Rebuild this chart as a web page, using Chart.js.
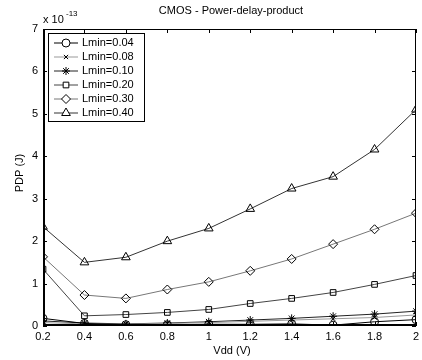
<!DOCTYPE html>
<html lang="en">
<head>
  <meta charset="UTF-8"/>
  <title>CMOS - Power-delay-product</title>
  <script src="https://cdn.jsdelivr.net/npm/chart.js"></script>
  <style>
    html, body { margin: 0; padding: 0; background: #fff; }
    #wrap { width: 422px; height: 360px; position: relative; }
  </style>
</head>
<body>
  <div id="wrap"><canvas id="pdp"></canvas></div>
  <script>
    // Vdd (V) and PDP values in units of 1e-13 J
    const vdd = [0.2, 0.4, 0.6, 0.8, 1.0, 1.2, 1.4, 1.6, 1.8, 2.0]
    const lmin004 = [0.18, 0.06, 0.03, 0.03, 0.04, 0.04, 0.05, 0.02, 0.10, 0.15]
    const lmin008 = [0.08, 0.05, 0.04, 0.06, 0.08, 0.11, 0.14, 0.17, 0.20, 0.26]
    const lmin010 = [0.12, 0.07, 0.05, 0.07, 0.10, 0.14, 0.18, 0.23, 0.28, 0.35]
    const lmin020 = [1.34, 0.24, 0.27, 0.32, 0.39, 0.53, 0.65, 0.79, 0.98, 1.19]
    const lmin030 = [1.63, 0.73, 0.65, 0.86, 1.04, 1.30, 1.58, 1.93, 2.28, 2.66]
    const lmin040 = [2.34, 1.50, 1.62, 2.00, 2.30, 2.76, 3.24, 3.52, 4.16, 5.10]
    const seriesNames = ['Lmin=0.04', 'Lmin=0.08', 'Lmin=0.10', 'Lmin=0.20', 'Lmin=0.30', 'Lmin=0.40']
    const xTicks = [0.2, 0.4, 0.6, 0.8, 1, 1.2, 1.4, 1.6, 1.8, 2]
    const yTicks = [0, 1, 2, 3, 4, 5, 6, 7]

    const FONT = 'Liberation Sans, Arial, sans-serif'
    const styles = [
      { line: '#000', point: 'circle', r: 4 },
      { line: '#999', point: 'crossRot', r: 3 },
      { line: '#222', point: 'star', r: 4 },
      { line: '#444', point: 'rect', r: 4 },
      { line: '#777', point: 'rectRot', r: 4.5 },
      { line: '#333', point: 'triangle', r: 5 }
    ]
    const allData = [lmin004, lmin008, lmin010, lmin020, lmin030, lmin040]

    const datasets = allData.map((vals, i) => ({
      label: seriesNames[i],
      data: vals.map((v, k) => ({ x: vdd[k], y: v })),
      borderColor: styles[i].line,
      borderWidth: 1,
      pointStyle: styles[i].point,
      pointRadius: styles[i].r,
      pointBorderColor: '#000',
      pointBorderWidth: 1,
      pointBackgroundColor: 'rgba(255,255,255,0)',
      tension: 0
    }))

    // axes box, inward ticks, title, labels and legend
    const decor = {
      id: 'decor',
      afterDatasetsDraw(chart) {
        const ctx = chart.ctx, a = chart.chartArea
        const xs = chart.scales.x, ys = chart.scales.y
        ctx.save()
        ctx.strokeStyle = '#000'
        ctx.lineWidth = 1
        ctx.beginPath()
        ctx.moveTo(a.left, a.top + 0.5); ctx.lineTo(a.right, a.top + 0.5)
        ctx.moveTo(a.right - 0.5, a.top); ctx.lineTo(a.right - 0.5, a.bottom)
        ctx.stroke()
        ctx.lineWidth = 2
        ctx.beginPath()
        ctx.moveTo(a.left + 1, a.top); ctx.lineTo(a.left + 1, a.bottom)
        ctx.moveTo(a.left, a.bottom - 1); ctx.lineTo(a.right, a.bottom - 1)
        ctx.stroke()
        ctx.lineWidth = 1
        ctx.beginPath()
        xTicks.forEach(t => {
          const px = Math.round(xs.getPixelForValue(t)) + 0.5
          ctx.moveTo(px, a.bottom); ctx.lineTo(px, a.bottom - 4)
          ctx.moveTo(px, a.top); ctx.lineTo(px, a.top + 4)
        })
        yTicks.forEach(t => {
          const py = Math.round(ys.getPixelForValue(t)) + 0.5
          ctx.moveTo(a.left, py); ctx.lineTo(a.left + 4, py)
          ctx.moveTo(a.right, py); ctx.lineTo(a.right - 4, py)
        })
        ctx.stroke()

        ctx.fillStyle = '#000'
        ctx.font = '11px ' + FONT
        ctx.textAlign = 'center'
        ctx.textBaseline = 'middle'
        ctx.fillText('CMOS - Power-delay-product', 231, 11)
        ctx.fillText('Vdd (V)', 232, 351)
        ctx.save()
        ctx.translate(20, 173)
        ctx.rotate(-Math.PI / 2)
        ctx.fillText('PDP (J)', 0, 0)
        ctx.restore()
        ctx.textAlign = 'left'
        ctx.fillText('x 10', 43, 20)
        ctx.font = '8px ' + FONT
        ctx.fillText('-13', 66, 14)

        // legend
        const lx = 48, ly = 33, lw = 96, lh = 88
        ctx.fillStyle = '#fff'
        ctx.fillRect(lx, ly, lw, lh)
        ctx.strokeStyle = '#000'
        ctx.lineWidth = 1
        ctx.strokeRect(lx + 0.5, ly + 0.5, lw, lh)
        ctx.font = '11px ' + FONT
        seriesNames.forEach((name, i) => {
          const cy = ly + 10 + i * 14
          ctx.strokeStyle = styles[i].line
          ctx.beginPath()
          ctx.moveTo(54, cy); ctx.lineTo(78, cy)
          ctx.stroke()
          ctx.strokeStyle = '#000'
          ctx.fillStyle = '#fff'
          Chart.helpers.drawPoint(ctx, { pointStyle: styles[i].point, radius: styles[i].r, rotation: 0, borderWidth: 1 }, 66, cy)
          ctx.fillStyle = '#000'
          ctx.fillText(name, 82, cy)
        })
        ctx.restore()
      }
    }

    new Chart(document.getElementById('pdp'), {
      type: 'line',
      data: { datasets },
      options: {
        responsive: true,
        maintainAspectRatio: false,
        animation: false,
        layout: { padding: { top: 29, right: 1, left: 0, bottom: 0 } },
        plugins: { legend: { display: false }, title: { display: false }, tooltip: { enabled: false } },
        scales: {
          x: {
            type: 'linear', min: 0.2, max: 2,
            grid: { display: false, drawTicks: false, tickLength: 0 }, border: { display: false },
            afterBuildTicks: s => { s.ticks = xTicks.map(v => ({ value: v })) },
            ticks: { padding: 4, color: '#000', font: { family: FONT, size: 11 }, maxRotation: 0, autoSkip: false,
              callback: v => String(v) },
            afterFit: s => { s.height = 34; s.paddingLeft = 0; s.paddingRight = 0 }
          },
          y: {
            min: 0, max: 7,
            grid: { display: false, drawTicks: false, tickLength: 0 }, border: { display: false },
            afterBuildTicks: s => { s.ticks = yTicks.map(v => ({ value: v })) },
            ticks: { padding: 5, color: '#000', font: { family: FONT, size: 11 } },
            afterFit: s => { s.width = 43; s.paddingTop = 0; s.paddingBottom = 0 }
          }
        }
      },
      plugins: [decor]
    })
  </script>
</body>
</html>
